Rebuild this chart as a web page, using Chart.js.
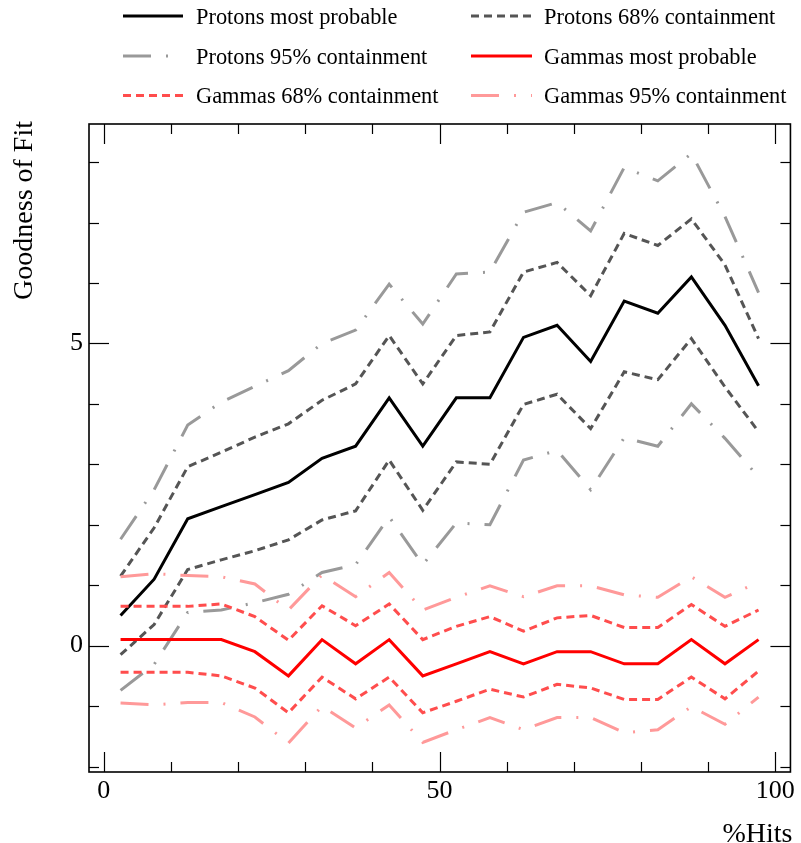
<!DOCTYPE html>
<html><head><meta charset="utf-8">
<script src="https://cdn.jsdelivr.net/npm/chart.js@4"></script>
<style>html,body{margin:0;padding:0;background:#fff}canvas{display:block}</style>
</head><body>
<canvas id="c" width="801" height="843"></canvas>
<script>
// ---- data ----
const hitsPct = [2.5, 7.5, 12.5, 17.5, 22.5, 27.5, 32.5, 37.5, 42.5, 47.5, 52.5, 57.5, 62.5, 67.5, 72.5, 77.5, 82.5, 87.5, 92.5, 97.5];
const protonsMostProbable = [0.5, 1.1, 2.1, 2.3, 2.5, 2.7, 3.1, 3.3, 4.1, 3.3, 4.1, 4.1, 5.1, 5.3, 4.7, 5.7, 5.5, 6.1, 5.3, 4.3];
const protons68Upper = [1.15, 1.95, 2.96, 3.2, 3.45, 3.67, 4.06, 4.33, 5.13, 4.33, 5.13, 5.19, 6.18, 6.34, 5.79, 6.82, 6.62, 7.06, 6.3, 5.08];
const protons68Lower = [-0.15, 0.35, 1.26, 1.42, 1.57, 1.75, 2.08, 2.23, 3.07, 2.24, 3.04, 3.0, 3.99, 4.16, 3.59, 4.53, 4.40, 5.08, 4.28, 3.54];
const protons95Upper = [1.76, 2.58, 3.65, 4.03, 4.29, 4.55, 5.0, 5.22, 5.98, 5.32, 6.15, 6.18, 7.17, 7.33, 6.86, 7.91, 7.69, 8.14, 7.1, 5.84];
const protons95Lower = [-0.74, -0.31, 0.55, 0.59, 0.71, 0.85, 1.21, 1.34, 2.13, 1.34, 2.03, 2.0, 3.07, 3.23, 2.58, 3.44, 3.3, 4.0, 3.43, 2.79];
const gammasMostProbable = [0.1, 0.1, 0.1, 0.1, -0.1, -0.5, 0.1, -0.3, 0.1, -0.5, -0.3, -0.1, -0.3, -0.1, -0.1, -0.3, -0.3, 0.1, -0.3, 0.1];
const gammas68Upper = [0.65, 0.65, 0.65, 0.69, 0.48, 0.09, 0.66, 0.33, 0.69, 0.1, 0.32, 0.48, 0.24, 0.46, 0.5, 0.3, 0.3, 0.68, 0.32, 0.59];
const gammas68Lower = [-0.44, -0.44, -0.44, -0.5, -0.7, -1.11, -0.52, -0.88, -0.52, -1.11, -0.92, -0.72, -0.85, -0.64, -0.7, -0.89, -0.89, -0.52, -0.88, -0.42];
const gammas95Upper = [1.14, 1.19, 1.16, 1.14, 1.02, 0.59, 1.17, 0.81, 1.21, 0.59, 0.8, 0.99, 0.81, 0.99, 0.99, 0.84, 0.8, 1.14, 0.8, 1.05];
const gammas95Lower = [-0.95, -0.98, -0.94, -0.94, -1.18, -1.61, -1.0, -1.36, -0.98, -1.6, -1.39, -1.19, -1.39, -1.19, -1.19, -1.44, -1.39, -1.01, -1.3, -0.85];

const legendLabels = ['Protons most probable', 'Protons 68% containment', 'Protons 95% containment',
                      'Gammas most probable', 'Gammas 68% containment', 'Gammas 95% containment'];
const xMajorTickLabels = ['0', '50', '100'];
const yMajorTickLabels = ['0', '5'];
const xAxisTitle = '%Hits';
const yAxisTitle = 'Goodness of Fit';

// ---- styles ----
const FONT = '"Liberation Serif", "Times New Roman", serif';
const sty = [
  {color: '#000000', dash: []},
  {color: '#555555', dash: [8, 5]},
  {color: '#999999', dash: [28, 15, 2, 15]},
  {color: '#ff0000', dash: []},
  {color: '#ff4d4d', dash: [8, 5]},
  {color: '#ff9999', dash: [28, 15, 2, 15]}
];
function pts(arr) { return arr.map((v, i) => ({x: hitsPct[i], y: v})); }
function ds(arr, s, label) {
  return {label: label, data: pts(arr), borderColor: sty[s].color, borderDash: sty[s].dash,
          borderWidth: 3, pointRadius: 0, tension: 0, fill: false, borderCapStyle: 'butt', borderJoinStyle: 'miter'};
}
const datasets = [
  ds(gammas95Upper, 5, legendLabels[5]), ds(gammas95Lower, 5, legendLabels[5]),
  ds(gammas68Upper, 4, legendLabels[4]), ds(gammas68Lower, 4, legendLabels[4]),
  ds(gammasMostProbable, 3, legendLabels[3]),
  ds(protons95Upper, 2, legendLabels[2]), ds(protons95Lower, 2, legendLabels[2]),
  ds(protons68Upper, 1, legendLabels[1]), ds(protons68Lower, 1, legendLabels[1]),
  ds(protonsMostProbable, 0, legendLabels[0])
];

const decor = {
  id: 'decor',
  afterDatasetsDraw(chart) {
    const {ctx, chartArea: a, scales: {x, y}} = chart;
    ctx.save();
    ctx.strokeStyle = '#000';
    ctx.lineWidth = 1.2;
    const line = (x1, y1, x2, y2) => { ctx.beginPath(); ctx.moveTo(x1, y1); ctx.lineTo(x2, y2); ctx.stroke(); };
    x.ticks.forEach(t => {
      if (Math.abs(t.value - Math.round(t.value / 10) * 10) > 1e-6) return;
      const px = Math.round(x.getPixelForValue(t.value)) + 0.5;
      const len = (Math.round(t.value) % 50 === 0) ? 20 : 10;
      line(px, a.bottom, px, a.bottom - len);
      line(px, a.top, px, a.top + len);
    });
    y.ticks.forEach(t => {
      if (Math.abs(t.value - Math.round(t.value)) > 1e-6) return;
      const py = Math.round(y.getPixelForValue(t.value)) + 0.5;
      const len = (Math.round(t.value) % 5 === 0) ? 20 : 10;
      line(a.left, py, a.left + len, py);
      line(a.right, py, a.right - len, py);
    });
    ctx.lineWidth = 1.6;
    ctx.strokeRect(a.left, a.top, a.right - a.left, a.bottom - a.top);
    ctx.restore();
  },
  afterDraw(chart) {
    const {ctx, chartArea: a} = chart;
    ctx.save();
    ctx.fillStyle = '#000';
    // axis titles
    ctx.font = '28px ' + FONT;
    ctx.textAlign = 'right';
    ctx.textBaseline = 'alphabetic';
    ctx.fillText(xAxisTitle, a.right + 2, 842);
    ctx.translate(31.5, 121);
    ctx.rotate(-Math.PI / 2);
    ctx.fillText(yAxisTitle, 0, 0);
    ctx.restore();
    // legend
    ctx.save();
    const cols = [{x0: 123, x1: 183, tx: 196}, {x0: 471, x1: 532, tx: 544}];
    const rows = [17, 57, 96.5];
    ctx.font = '22.4px ' + FONT;
    ctx.textAlign = 'left';
    ctx.textBaseline = 'middle';
    legendLabels.forEach((lab, i) => {
      const c = cols[i % 2], r = rows[Math.floor(i / 2)];
      const d = chart.data.datasets.find(dd => dd.label === lab);
      ctx.strokeStyle = d.borderColor;
      ctx.lineWidth = 3;
      ctx.setLineDash(d.borderDash);
      ctx.lineCap = 'butt';
      ctx.beginPath(); ctx.moveTo(c.x0, r - 1); ctx.lineTo(c.x1, r - 1); ctx.stroke();
      ctx.setLineDash([]);
      ctx.fillStyle = '#000';
      ctx.fillText(lab, c.tx, r + 1);
    });
    ctx.restore();
  }
};

new Chart(document.getElementById('c'), {
  type: 'line',
  data: {datasets: datasets},
  options: {
    responsive: false,
    animation: false,
    devicePixelRatio: 1,
    layout: {padding: {left: 0, right: 8, top: 124, bottom: 0}},
    plugins: {legend: {display: false}, tooltip: {enabled: false}, title: {display: false}},
    scales: {
      x: {
        type: 'linear', min: -2.2, max: 102.25,
        grid: {display: false, drawTicks: false}, border: {display: false},
        ticks: {
          stepSize: 10, includeBounds: false, autoSkip: false, maxRotation: 0, minRotation: 0,
          padding: 6, color: '#000', font: {family: FONT, size: 26, lineHeight: 1},
          callback: v => { const s = String(Math.round(v)); return (Math.abs(v % 50) < 1e-6 && xMajorTickLabels.includes(s)) ? s : ''; }
        },
        afterFit: s => { s.height = 71; }
      },
      y: {
        type: 'linear', min: -2.09, max: 8.63,
        grid: {display: false, drawTicks: false}, border: {display: false},
        ticks: {
          stepSize: 1, includeBounds: false, autoSkip: false, padding: 6, color: '#000',
          font: {family: FONT, size: 26, lineHeight: 1},
          callback: v => { const s = String(Math.round(v)); return (Math.abs(v % 5) < 1e-6 && yMajorTickLabels.includes(s)) ? s : ''; }
        },
        afterFit: s => { s.width = 89; }
      }
    }
  },
  plugins: [decor]
});
</script>
</body></html>
